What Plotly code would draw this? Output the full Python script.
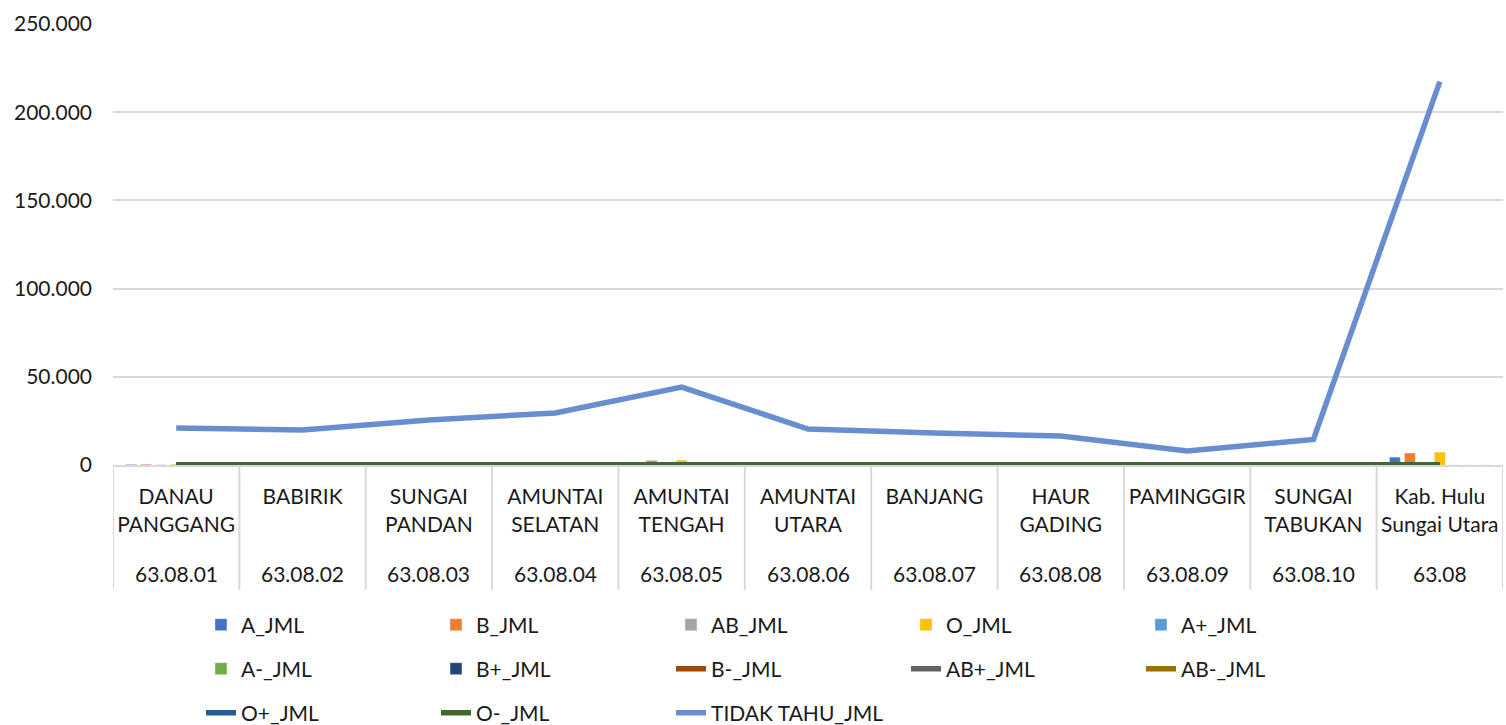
import plotly.graph_objects as go

# kode wilayah (baris bawah) dan nama kecamatan (baris atas)
kode = ["63.08.01", "63.08.02", "63.08.03", "63.08.04", "63.08.05", "63.08.06",
        "63.08.07", "63.08.08", "63.08.09", "63.08.10", "63.08"]
wilayah = ["DANAU<br>PANGGANG", "BABIRIK", "SUNGAI<br>PANDAN", "AMUNTAI<br>SELATAN",
           "AMUNTAI<br>TENGAH", "AMUNTAI<br>UTARA", "BANJANG", "HAUR<br>GADING",
           "PAMINGGIR", "SUNGAI<br>TABUKAN", "Kab. Hulu<br>Sungai Utara"]

# golongan darah - ditampilkan sebagai batang
a_jml = [360, 320, 440, 500, 1500, 340, 300, 270, 160, 280, 4470]
b_jml = [500, 450, 620, 700, 2600, 480, 420, 380, 230, 420, 6800]
ab_jml = [120, 110, 150, 170, 600, 110, 100, 90, 55, 100, 1605]
o_jml = [540, 480, 660, 760, 2800, 520, 460, 410, 250, 450, 7330]
a_plus_jml = [2, 1, 3, 2, 8, 1, 1, 2, 0, 1, 21]
a_min_jml = [0, 0, 1, 0, 2, 0, 0, 1, 0, 0, 4]
b_plus_jml = [1, 2, 2, 1, 6, 1, 1, 1, 0, 1, 16]

# golongan darah - ditampilkan sebagai garis
b_min_jml = [0, 0, 0, 1, 1, 0, 0, 0, 0, 0, 2]
ab_plus_jml = [0, 1, 0, 0, 2, 0, 0, 0, 0, 0, 3]
ab_min_jml = [0, 0, 0, 0, 1, 0, 0, 0, 0, 0, 1]
o_plus_jml = [1, 1, 2, 1, 5, 1, 0, 1, 0, 1, 13]
o_min_jml = [0, 0, 0, 0, 1, 0, 1, 0, 0, 0, 2]
tidak_tahu_jml = [21000, 19800, 25500, 29500, 44200, 20400, 18100, 16400, 7900, 14500, 217300]

FONT = "Lato"
FS = 21
TXT = "#1a1a1a"
GRID = "#d9d9d9"

bars = [
    ("A_JML", a_jml, "#4472C4", "legend"),
    ("B_JML", b_jml, "#ED7D31", "legend"),
    ("AB_JML", ab_jml, "#A5A5A5", "legend"),
    ("O_JML", o_jml, "#FFC000", "legend"),
    ("A+_JML", a_plus_jml, "#5B9BD5", "legend"),
    ("A-_JML", a_min_jml, "#70AD47", "legend2"),
    ("B+_JML", b_plus_jml, "#264478", "legend2"),
]
lines = [
    ("B-_JML", b_min_jml, "#9E480E", "legend2"),
    ("AB+_JML", ab_plus_jml, "#636363", "legend2"),
    ("AB-_JML", ab_min_jml, "#997300", "legend2"),
    ("O+_JML", o_plus_jml, "#255E91", "legend3"),
    ("O-_JML", o_min_jml, "#43682B", "legend3"),
    ("TIDAK TAHU_JML", tidak_tahu_jml, "#698ED0", "legend3"),
]

fig = go.Figure()

for name, vals, color, leg in bars:
    fig.add_trace(go.Bar(
        x=kode, y=vals, name=name, marker_color=color, legend=leg,
        hovertemplate="<b>" + name + "</b><br>%{x}<br>%{y:,d}<extra></extra>"
    ))

for name, vals, color, leg in lines:
    fig.add_trace(go.Scatter(
        x=kode, y=vals, name=name, mode="lines", legend=leg,
        line=dict(color=color, width=5.5),
        hovertemplate="<b>" + name + "</b><br>%{x}<br>%{y:,d}<extra></extra>"
    ))

# garis pemisah kategori di bawah sumbu x (gaya tabel Excel)
for i in range(len(kode) + 1):
    fig.add_shape(type="line", xref="x", yref="paper",
                  x0=i - 0.5, x1=i - 0.5, y0=0, y1=-0.283,
                  line=dict(color=GRID, width=2))

# baris kedua label: kode wilayah (posisi pakai indeks kategori)
for i, k in enumerate(kode):
    fig.add_annotation(x=i, xref="x", y=-0.245, yref="paper", text=k,
                       showarrow=False, yanchor="middle",
                       font=dict(family=FONT, size=FS, color=TXT))

legend_style = dict(
    orientation="h", xref="container", yref="container",
    x=201 / 1506, xanchor="left", yanchor="middle",
    entrywidth=190, entrywidthmode="pixels",
    font=dict(family=FONT, size=FS, color=TXT),
    bgcolor="rgba(0,0,0,0)",
)

fig.update_layout(
    width=1506, height=725,
    margin=dict(l=113, r=3, t=24, b=260),
    plot_bgcolor="white", paper_bgcolor="white",
    font=dict(family=FONT, size=FS, color=TXT),
    separators=",.",
    barmode="group", bargap=0.17, bargroupgap=0.27,
    legend=dict(legend_style, y=(725 - 625) / 725),
    legend2=dict(legend_style, y=(725 - 669) / 725),
    legend3=dict(legend_style, y=(725 - 713) / 725),
    xaxis=dict(
        type="category", automargin=False,
        range=[-0.5, len(kode) - 0.5],
        tickvals=kode, ticktext=wilayah,
        showline=True, linecolor=GRID, linewidth=2,
        showgrid=False, ticklabelstandoff=12,
        tickfont=dict(family=FONT, size=FS, color=TXT),
    ),
    yaxis=dict(
        range=[0, 250000], dtick=50000, tickformat=",d", automargin=False,
        showgrid=True, gridcolor=GRID, gridwidth=1.5,
        zeroline=False, showline=False,
        ticklabelstandoff=20,
        tickfont=dict(family=FONT, size=FS, color=TXT),
    ),
)

# hilangkan margin bawaan <body> agar grafik pas di jendela
fig.write_html("out.html", config={"displayModeBar": False},
               post_script="document.body.style.margin='0';")
